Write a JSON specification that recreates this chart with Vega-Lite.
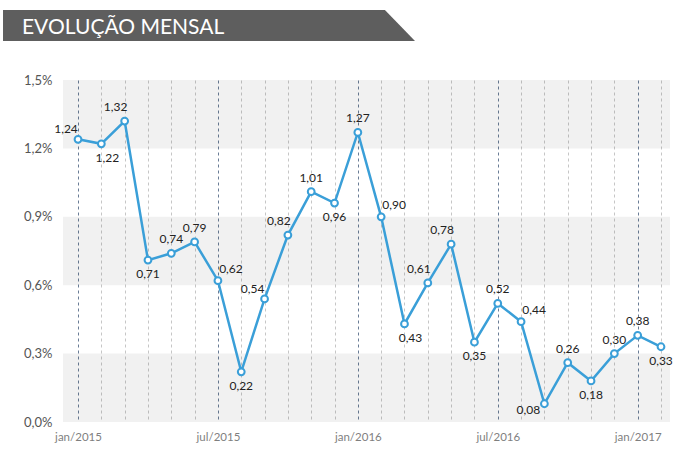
{
  "$schema": "https://vega.github.io/schema/vega-lite/v6.json",
  "background": "white",
  "padding": {"left": 3, "top": 10, "right": 8, "bottom": 5},
  "config": {
    "view": {"stroke": null},
    "font": "Lato",
    "locale": {"number": {"decimal": ",", "thousands": ".", "grouping": [3], "currency": ["R$", ""]}}
  },
  "datasets": {
    "serie": [
      {"mes": "jan/2015", "valor": 1.24}, {"mes": "fev/2015", "valor": 1.22}, {"mes": "mar/2015", "valor": 1.32},
      {"mes": "abr/2015", "valor": 0.71}, {"mes": "mai/2015", "valor": 0.74}, {"mes": "jun/2015", "valor": 0.79},
      {"mes": "jul/2015", "valor": 0.62}, {"mes": "ago/2015", "valor": 0.22}, {"mes": "set/2015", "valor": 0.54},
      {"mes": "out/2015", "valor": 0.82}, {"mes": "nov/2015", "valor": 1.01}, {"mes": "dez/2015", "valor": 0.96},
      {"mes": "jan/2016", "valor": 1.27}, {"mes": "fev/2016", "valor": 0.90}, {"mes": "mar/2016", "valor": 0.43},
      {"mes": "abr/2016", "valor": 0.61}, {"mes": "mai/2016", "valor": 0.78}, {"mes": "jun/2016", "valor": 0.35},
      {"mes": "jul/2016", "valor": 0.52}, {"mes": "ago/2016", "valor": 0.44}, {"mes": "set/2016", "valor": 0.08},
      {"mes": "out/2016", "valor": 0.26}, {"mes": "nov/2016", "valor": 0.18}, {"mes": "dez/2016", "valor": 0.30},
      {"mes": "jan/2017", "valor": 0.38}, {"mes": "fev/2017", "valor": 0.33}
    ],
    "faixas": [{"y0": 0, "y1": 0.3}, {"y0": 0.6, "y1": 0.9}, {"y0": 1.2, "y1": 1.5}],
    "banner": [{"x": 0, "y": 1}, {"x": 0.927, "y": 1}, {"x": 1, "y": 0}]
  },
  "spacing": 33,
  "vconcat": [
    {
      "width": 352,
      "height": 31,
      "layer": [
        {
          "data": {"name": "banner"},
          "mark": {"type": "area", "color": "#5e5e5e", "opacity": 1, "clip": false},
          "encoding": {
            "x": {"field": "x", "type": "quantitative", "scale": {"domain": [0.1456, 1], "nice": false, "zero": false}, "axis": null},
            "y": {"field": "y", "type": "quantitative", "scale": {"domain": [0, 1], "nice": false}, "axis": null},
            "y2": {"datum": 0}
          }
        },
        {
          "data": {"values": [{"titulo": "EVOLUÇÃO MENSAL"}]},
          "mark": {"type": "text", "color": "white", "fontSize": 21, "align": "left", "baseline": "alphabetic", "font": "Lato", "clip": false},
          "encoding": {
            "x": {"datum": 0.046, "type": "quantitative"},
            "y": {"datum": 0.226, "type": "quantitative"},
            "text": {"field": "titulo"}
          }
        }
      ]
    },
    {
      "width": 607,
      "height": 342,
      "data": {"name": "serie"},
      "encoding": {
        "y": {
          "field": "valor", "type": "quantitative",
          "scale": {"domain": [0, 1.5], "nice": false},
          "axis": {
            "title": null, "domain": false, "ticks": false, "grid": false,
            "values": [0, 0.3, 0.6, 0.9, 1.2, 1.5],
            "labelExpr": "replace(format(datum.value, '.1f'), '.', ',') + '%'",
            "labelFontSize": 13, "labelColor": "#555555", "labelPadding": 11, "labelFont": "Lato",
            "minExtent": 60, "maxExtent": 60
          }
        }
      },
      "layer": [
        {
          "data": {"name": "faixas"},
          "mark": {"type": "rect", "color": "#000", "opacity": 0.055},
          "encoding": {
            "y": {"field": "y0", "type": "quantitative", "scale": {"domain": [0, 1.5], "nice": false},
              "axis": {
                "title": null, "domain": false, "ticks": false, "grid": false,
                "values": [0, 0.3, 0.6, 0.9, 1.2, 1.5],
                "labelExpr": "replace(format(datum.value, '.1f'), '.', ',') + '%'",
                "labelFontSize": 13, "labelColor": "#555555", "labelPadding": 11, "labelFont": "Lato",
                "minExtent": 60, "maxExtent": 60
              }},
            "y2": {"field": "y1"}
          }
        },
        {
          "encoding": {
            "x": {
              "field": "mes", "type": "ordinal",
              "scale": {"type": "point", "padding": 0.515, "align": 0.625,
                "domain": ["jan/2015","fev/2015","mar/2015","abr/2015","mai/2015","jun/2015","jul/2015","ago/2015","set/2015","out/2015","nov/2015","dez/2015","jan/2016","fev/2016","mar/2016","abr/2016","mai/2016","jun/2016","jul/2016","ago/2016","set/2016","out/2016","nov/2016","dez/2016","jan/2017","fev/2017"]},
              "axis": {
                "title": null, "domain": false, "ticks": false, "grid": true,
                "gridDash": [3, 3], "gridWidth": 1,
                "gridColor": {"condition": {"test": "indexof(datum.value, 'jan') == 0 || indexof(datum.value, 'jul') == 0", "value": "#6a7d96"}, "value": "#c6c6c6"},
                "labelExpr": "indexof(datum.label, 'jan') == 0 || indexof(datum.label, 'jul') == 0 ? datum.label : ''",
                "labelAngle": 0, "labelFontSize": 11.5, "labelColor": "#7f7f7f", "labelPadding": 9, "labelFont": "Lato"
              }
            }
          },
          "layer": [
            {"mark": {"type": "line", "color": "#3a9fd8", "strokeWidth": 2.5}},
            {"mark": {"type": "point", "filled": true, "fill": "white", "stroke": "#3a9fd8", "strokeWidth": 2, "size": 46, "opacity": 1}},
            {
              "transform": [{"filter": {"field": "mes", "oneOf": ["mai/2015","jun/2015","nov/2015","jan/2016","jul/2016","out/2016","dez/2016","jan/2017"]}}],
              "mark": {"type": "text", "dy": -14, "fontSize": 12, "color": "#222222", "baseline": "middle"},
              "encoding": {"text": {"field": "valor", "type": "quantitative", "format": ".2f"}}
            },
            {
              "transform": [{"filter": {"field": "mes", "oneOf": ["jan/2015","set/2015"]}}],
              "mark": {"type": "text", "dx": -12, "dy": -10, "fontSize": 12, "color": "#222222", "baseline": "middle"},
              "encoding": {"text": {"field": "valor", "type": "quantitative", "format": ".2f"}}
            },
            {
              "transform": [{"filter": {"field": "mes", "oneOf": ["mar/2015","out/2015","abr/2016","mai/2016"]}}],
              "mark": {"type": "text", "dx": -9, "dy": -14, "fontSize": 12, "color": "#222222", "baseline": "middle"},
              "encoding": {"text": {"field": "valor", "type": "quantitative", "format": ".2f"}}
            },
            {
              "transform": [{"filter": {"field": "mes", "oneOf": ["jul/2015","fev/2016","ago/2016"]}}],
              "mark": {"type": "text", "dx": 13, "dy": -12, "fontSize": 12, "color": "#222222", "baseline": "middle"},
              "encoding": {"text": {"field": "valor", "type": "quantitative", "format": ".2f"}}
            },
            {
              "transform": [{"filter": {"field": "mes", "oneOf": ["abr/2015","ago/2015","dez/2015","jun/2016","nov/2016","fev/2017"]}}],
              "mark": {"type": "text", "dy": 14, "fontSize": 12, "color": "#222222", "baseline": "middle"},
              "encoding": {"text": {"field": "valor", "type": "quantitative", "format": ".2f"}}
            },
            {
              "transform": [{"filter": {"field": "mes", "oneOf": ["fev/2015","mar/2016"]}}],
              "mark": {"type": "text", "dx": 6, "dy": 14, "fontSize": 12, "color": "#222222", "baseline": "middle"},
              "encoding": {"text": {"field": "valor", "type": "quantitative", "format": ".2f"}}
            },
            {
              "transform": [{"filter": {"field": "mes", "oneOf": ["set/2016"]}}],
              "mark": {"type": "text", "dx": -16, "dy": 6, "fontSize": 12, "color": "#222222", "baseline": "middle"},
              "encoding": {"text": {"field": "valor", "type": "quantitative", "format": ".2f"}}
            }
          ]
        }
      ]
    }
  ]
}
